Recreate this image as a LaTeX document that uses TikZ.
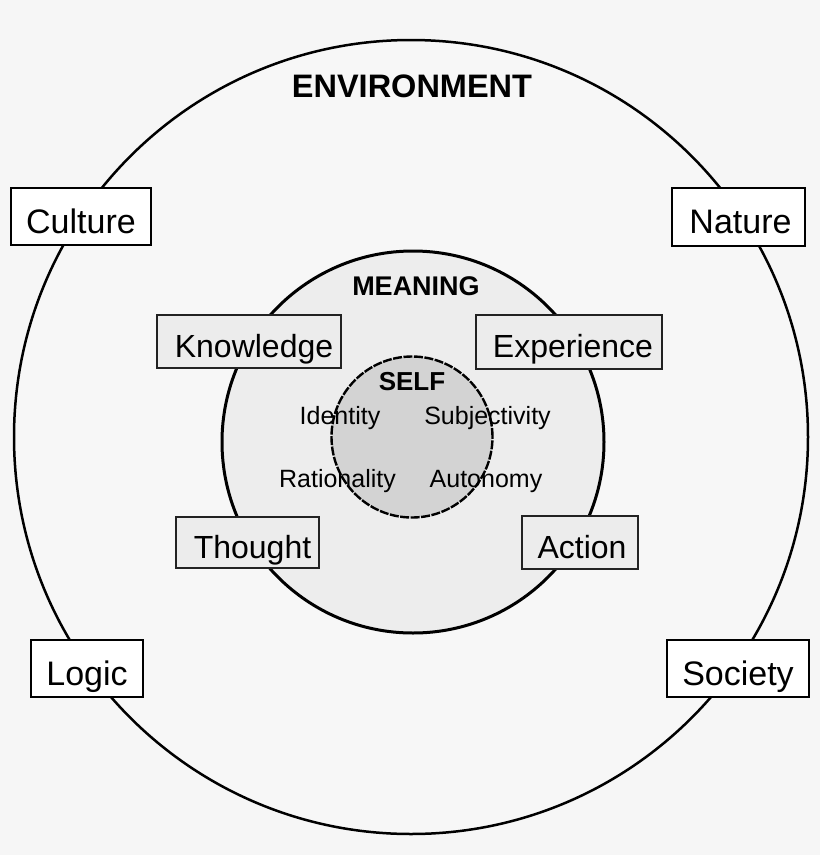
\documentclass[tikz,border=0pt]{standalone}
\usepackage{fontspec}
\setmainfont{Liberation Sans}
\definecolor{bgc}{HTML}{F6F6F6}
\definecolor{envc}{HTML}{F7F7F7}
\definecolor{meanc}{HTML}{EDEDED}
\definecolor{selfc}{HTML}{D3D3D3}
\definecolor{inboxc}{HTML}{ECECEC}
\definecolor{inline}{HTML}{222222}
\begin{document}
\begin{tikzpicture}[x=1pt,y=-1pt,
  ring/.style={circle, draw=black, inner sep=0pt, outer sep=0pt},
  outbox/.style={rectangle, draw=black, line width=2.2pt, fill=white, inner sep=0pt,
    font=\fontsize{34}{40}\selectfont, text height=36pt, text depth=3pt},
  inbox/.style={rectangle, draw=inline, line width=1.8pt, fill=inboxc, inner sep=0pt,
    font=\fontsize{32}{38}\selectfont, text height=34pt, text depth=3pt},
  title/.style={font=\fontsize{32.5}{38}\selectfont\bfseries, anchor=base, inner sep=0pt},
  subtitle/.style={font=\fontsize{27}{32}\selectfont\bfseries, anchor=base, inner sep=0pt},
  facet/.style={font=\fontsize{25}{30}\selectfont, anchor=base, inner sep=0pt}
]
\useasboundingbox (0,0) rectangle (820,855);
\fill[bgc] (0,0) rectangle (820,855);

% circles
\node[ring, line width=2.5pt, fill=envc, minimum size=794pt] (env) at (411,437) {};
\node[ring, line width=3pt, fill=meanc, minimum size=382pt] (meaning) at (413,442) {};
\node[ring, line width=2.4pt, fill=selfc, minimum size=161pt, dash pattern=on 9pt off 1.5pt] (self) at (412,437) {};

% titles
\node[title] (envt) at (412,97) {ENVIRONMENT};
\node[subtitle] (meant) at (416,295) {MEANING};
\node[font=\fontsize{26}{30}\selectfont\bfseries, anchor=base, inner sep=0pt] (selft) at (412,390) {SELF};

% facets of self
\node[facet] (identity) at (340,424) {Identity};
\node[facet] (subj) at (487.5,424) {Subjectivity};
\node[facet] (ration) at (337.5,487) {Rationality};
\node[facet] (auton) at (486,487) {Autonomy};

% inner boxes
\node[inbox, minimum width=184pt, minimum height=53pt] (knowledge) at (249,341.5) {\hspace*{10pt}Knowledge};
\node[inbox, minimum width=186pt, minimum height=54pt] (experience) at (569,342) {\hspace*{8pt}Experience};
\node[inbox, minimum width=143pt, minimum height=51pt] (thought) at (247.5,542.5) {\hspace*{10pt}Thought};
\node[inbox, minimum width=116pt, minimum height=53pt] (action) at (580,542.5) {\hspace*{4pt}Action};

% outer boxes
\node[outbox, minimum width=140pt, minimum height=57pt] (culture) at (81,216.5) {Culture};
\node[outbox, minimum width=133pt, minimum height=58pt] (nature) at (738.5,217) {\hspace*{4pt}Nature};
\node[outbox, minimum width=112pt, minimum height=57pt] (logic) at (87,668.5) {Logic};
\node[outbox, minimum width=142pt, minimum height=57pt] (society) at (738,668.5) {Society};
\end{tikzpicture}
\end{document}
